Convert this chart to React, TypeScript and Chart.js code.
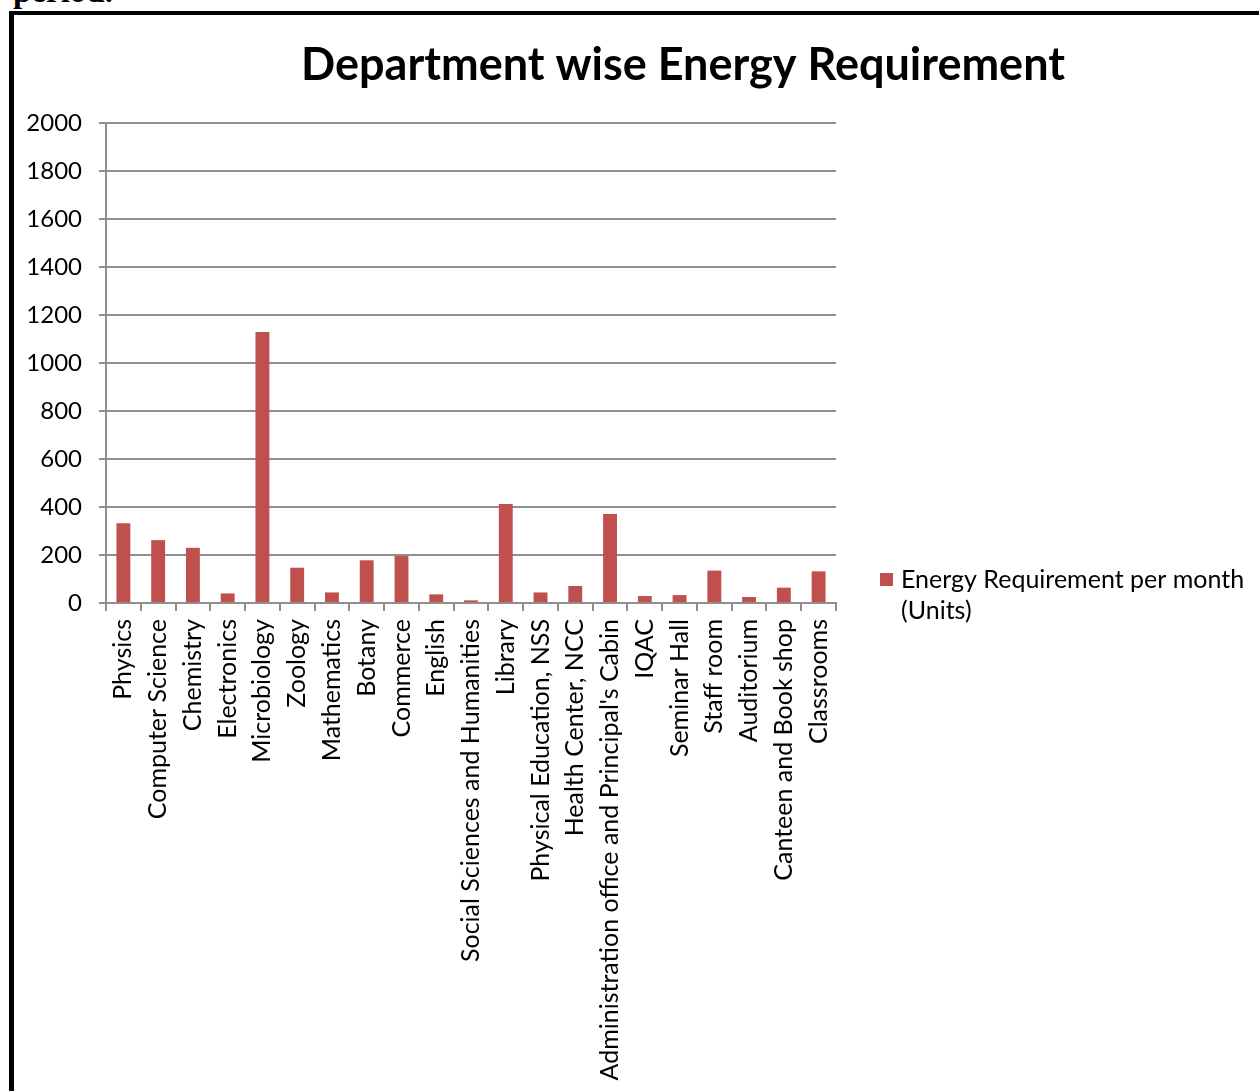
import React, { useEffect, useRef } from "react";
import { Chart, registerables } from "chart.js";

Chart.register(...registerables);

const categories: string[] = [
  "Physics",
  "Computer Science",
  "Chemistry",
  "Electronics",
  "Microbiology",
  "Zoology",
  "Mathematics",
  "Botany",
  "Commerce",
  "English",
  "Social Sciences and Humanities",
  "Library",
  "Physical Education, NSS",
  "Health Center, NCC",
  "Administration office and Principal's Cabin",
  "IQAC",
  "Seminar Hall",
  "Staff room",
  "Auditorium",
  "Canteen and Book shop",
  "Classrooms",
];

const energyPerMonth: number[] = [
  332, 262, 230, 40, 1129, 147, 44, 178, 196, 36, 11, 412, 44, 71, 371, 29, 33, 135, 25, 64, 132,
];

const chartTitle = "Department wise Energy Requirement";
const seriesLabel = "Energy Requirement per month (Units)";
const legendLines: string[] = ["Energy Requirement per month", "(Units)"];
const yTicks = { min: 0, max: 2000, step: 200 };

const FONT = "Lato, 'Open Sans', sans-serif";
const BAR_COLOR = "#C0504D";
const GRID_COLOR = "#8e8e8e";

const framePlugin = {
  id: "frameText",
  afterDraw(chart: any) {
    const ctx = chart.ctx as CanvasRenderingContext2D;
    ctx.save();
    // title
    ctx.fillStyle = "#000";
    ctx.font = `bold 45px ${FONT}`;
    ctx.textAlign = "center";
    ctx.textBaseline = "middle";
    ctx.fillText(chartTitle, 669, 50);
    // legend
    const area = chart.chartArea;
    const lx = area.right + 44;
    ctx.fillStyle = BAR_COLOR;
    ctx.fillRect(lx, 558, 13, 13);
    ctx.fillStyle = "#000";
    ctx.font = `25px ${FONT}`;
    ctx.textAlign = "left";
    ctx.textBaseline = "middle";
    legendLines.forEach((line, i) => {
      ctx.fillText(line, lx + 21, 565 + i * 31);
    });
    ctx.restore();
  },
};

function BarChart() {
  const canvasRef = useRef<HTMLCanvasElement | null>(null);

  useEffect(() => {
    if (!canvasRef.current) return;
    const chart = new Chart(canvasRef.current, {
      type: "bar",
      data: {
        labels: categories,
        datasets: [
          {
            label: seriesLabel,
            data: energyPerMonth,
            backgroundColor: BAR_COLOR,
            borderWidth: 0,
            barPercentage: 0.4,
            categoryPercentage: 1,
          },
        ],
      },
      options: {
        animation: false,
        responsive: true,
        maintainAspectRatio: false,
        layout: { padding: { top: 108, right: 423, left: 0, bottom: 0 } },
        plugins: {
          legend: { display: false },
          title: { display: false },
          tooltip: { enabled: false },
        },
        scales: {
          x: {
            offset: true,
            grid: {
              display: true,
              offset: true,
              drawOnChartArea: false,
              drawTicks: true,
              tickLength: 8,
              color: GRID_COLOR,
              lineWidth: 2,
            },
            border: { display: true, color: GRID_COLOR, width: 2 },
            ticks: {
              autoSkip: false,
              minRotation: 90,
              maxRotation: 90,
              padding: 8,
              color: "#000",
              font: { family: FONT, size: 25 },
            },
            afterFit: (scale: any) => {
              scale.height = 488;
            },
          },
          y: {
            min: yTicks.min,
            max: yTicks.max,
            ticks: {
              stepSize: yTicks.step,
              padding: 17,
              color: "#000",
              font: { family: FONT, size: 24 },
              callback: (value: any) => String(value),
            },
            grid: {
              color: GRID_COLOR,
              lineWidth: 2,
              drawTicks: true,
              tickLength: 7,
            },
            border: { display: true, color: GRID_COLOR, width: 2 },
            afterFit: (scale: any) => {
              scale.width = 92;
            },
          },
        },
      },
      plugins: [framePlugin],
    });
    return () => chart.destroy();
  }, []);

  return (
    <div style={{ position: "absolute", left: 14, top: 15, width: 1245, height: 1076 }}>
      <canvas ref={canvasRef} />
    </div>
  );
}

export default function App() {
  return (
    <div
      style={{
        position: "fixed",
        left: 0,
        top: 0,
        width: 1259,
        height: 1091,
        overflow: "hidden",
        background: "#fff",
      }}
    >
      <div
        style={{
          position: "absolute",
          left: 13,
          top: -25,
          font: "bold 33px 'Liberation Serif', 'Times New Roman', serif",
          lineHeight: "33px",
          whiteSpace: "nowrap",
          color: "#000",
        }}
      >
        period.
      </div>
      <div
        style={{
          position: "absolute",
          left: 9,
          top: 11,
          width: 1400,
          height: 1200,
          borderTop: "4px solid #000",
          borderLeft: "5px solid #000",
        }}
      />
      <BarChart />
    </div>
  );
}
